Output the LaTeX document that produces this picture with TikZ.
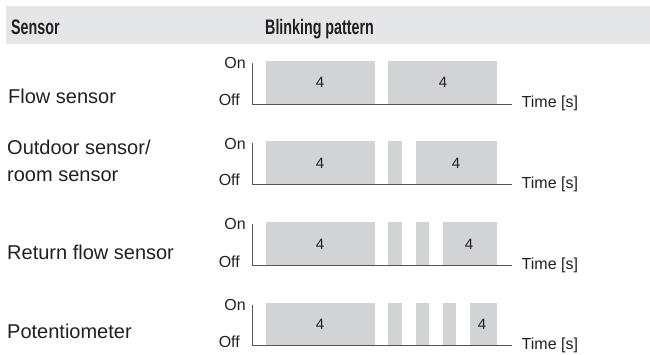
\documentclass[tikz,border=0pt]{standalone}
\usepackage{fontspec}
\setmainfont{Liberation Sans}
\newfontfamily\headfont{Liberation Sans}[FakeStretch=0.68]
\definecolor{ink}{RGB}{35,31,32}
\definecolor{barfill}{RGB}{210,211,213}
\definecolor{headfill}{RGB}{229,230,232}
\definecolor{axiscol}{RGB}{85,85,85}
\begin{document}
\begin{tikzpicture}[x=1pt,y=-1pt,
  headtxt/.style={anchor=base west,inner sep=0pt,text=ink,font=\headfont\bfseries\fontsize{21}{24}\selectfont},
  sensortxt/.style={anchor=base west,inner sep=0pt,text=ink,align=left,font=\fontsize{20}{27}\selectfont},
  levtxt/.style={anchor=base east,inner sep=0pt,text=ink,font=\fontsize{16}{18}\selectfont},
  numtxt/.style={inner sep=0pt,text=ink,font=\fontsize{15}{18}\selectfont},
  timetxt/.style={anchor=base west,inner sep=0pt,text=ink,font=\fontsize{16}{18}\selectfont},
  bar/.style={fill=barfill},
  axisline/.style={draw=axiscol,line width=0.9pt}
]
  \useasboundingbox (0,0) rectangle (650,355);
  % header
  \fill[headfill] (6,6) rectangle (650,44);
  \node[headtxt] (hsensor)  at (11,35)  {Sensor};
  \node[headtxt] (hpattern) at (265,35) {Blinking pattern};

  % flow sensor
  \node[sensortxt] (flow) at (8,104) {Flow sensor};
  \foreach \s/\l in {0/8,9/8}
    \fill[bar] (266+13.6*\s,61) rectangle ++(13.6*\l,43);
  \draw[axisline] (252,63) |- (512,104);
  \node[levtxt]  (on1)   at (246,69)    {On};
  \node[levtxt]  (off1)  at (240,105.5) {Off};
  \node[numtxt]  (a1)    at (320,82.5)  {4};
  \node[numtxt]  (b1)    at (443,82.5)  {4};
  \node[timetxt] (time1) at (521.5,108) {Time [s]};

  % outdoor sensor / room sensor
  \node[sensortxt] (outdoor) at (7,182) {Outdoor sensor/\\room sensor};
  \foreach \s/\l in {0/8,9/1,11/6}
    \fill[bar] (266+13.6*\s,141.5) rectangle ++(13.6*\l,43);
  \draw[axisline] (252,143.5) |- (512,184.5);
  \node[levtxt]  (on2)   at (246,150)   {On};
  \node[levtxt]  (off2)  at (240,186)   {Off};
  \node[numtxt]  (a2)    at (320,163)   {4};
  \node[numtxt]  (b2)    at (456,163)   {4};
  \node[timetxt] (time2) at (521.5,188.5) {Time [s]};

  % return flow sensor
  \node[sensortxt] (return) at (7,260) {Return flow sensor};
  \foreach \s/\l in {0/8,9/1,11/1,13/4}
    \fill[bar] (266+13.6*\s,222.5) rectangle ++(13.6*\l,43);
  \draw[axisline] (252,224.5) |- (512,265.5);
  \node[levtxt]  (on3)   at (246,230)   {On};
  \node[levtxt]  (off3)  at (240,267)   {Off};
  \node[numtxt]  (a3)    at (320,244)   {4};
  \node[numtxt]  (b3)    at (469,244)   {4};
  \node[timetxt] (time3) at (521.5,269.5) {Time [s]};

  % potentiometer
  \node[sensortxt] (poti) at (7,338) {Potentiometer};
  \foreach \s/\l in {0/8,9/1,11/1,13/1,15/2}
    \fill[bar] (266+13.6*\s,302.5) rectangle ++(13.6*\l,43);
  \draw[axisline] (252,304.5) |- (512,345.5);
  \node[levtxt]  (on4)   at (246,310)   {On};
  \node[levtxt]  (off4)  at (240,347)   {Off};
  \node[numtxt]  (a4)    at (320,324)   {4};
  \node[numtxt]  (b4)    at (482,324)   {4};
  \node[timetxt] (time4) at (521.5,349.5) {Time [s]};
\end{tikzpicture}
\end{document}
